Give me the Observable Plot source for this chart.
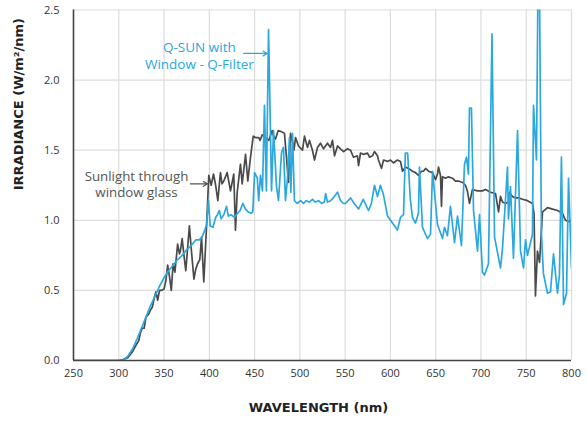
<!DOCTYPE html>
<html>
<head>
<meta charset="utf-8">
<script src="https://cdn.jsdelivr.net/npm/d3@7"></script>
<script src="https://cdn.jsdelivr.net/npm/@observablehq/plot@0.6"></script>
<style>
  html, body { margin: 0; padding: 0; background: #fff; }
  #chart { width: 587px; height: 423px; }
</style>
</head>
<body>
<div id="chart"></div>
<script>
// Sunlight through window glass
const sunWavelength = [250,300,304,310,315,320,322,324,326,328,330,333,335,337,339,341,343,345,347,350,352,354,356,358,360,362,365,367,368,370,372,374,376,378,380,383,385,387,389.5,391.4,393.9,396.9,399.4,402.1,404.6,407,409.4,412.3,414,416,419.7,423.4,427,428.9,430.8,434.4,436.3,440,442.5,445.5,448.5,451,454.6,456,458.4,462,465.7,469.4,471,473.1,476.1,480.5,483,485.2,487.4,489.7,491.9,493.5,495.2,498.5,502.9,505.1,508.4,510.6,513.9,516.2,519.5,522.8,526.1,530.5,533.8,536,538.3,541.6,544.9,548.2,552.6,555.9,559.2,563.6,564.8,567,570.3,574.7,576.9,580.2,582.4,585.7,586.8,590.2,592.4,596.8,600.1,603.4,607.8,611.1,613.4,616.7,620,624.4,627.7,631,634.3,636.5,638.8,642.1,646.5,649.8,652,653.1,655.3,656.4,657.5,660.8,664.1,668.6,671.9,675.2,679.6,682.9,685,687.3,690.6,696.2,701.7,705,710.5,716.1,719.4,721.6,723.8,727.1,730.4,731.5,734.8,738.1,741.5,745.9,751.4,756.9,758.6,760.2,762.4,764.7,768,773.5,779,784.5,790,793.4,797,800];
const sunIrradiance = [0,0,0.005,0.02,0.06,0.12,0.14,0.2,0.23,0.23,0.31,0.33,0.36,0.38,0.44,0.49,0.43,0.5,0.5,0.51,0.57,0.68,0.6,0.5,0.69,0.63,0.83,0.76,0.78,0.87,0.75,0.64,0.8,0.96,0.8,0.58,0.65,0.69,0.72,0.88,0.56,0.95,1.32,1.25,1.33,1.25,1.14,1.34,1.26,1.28,1.34,1.21,1.33,0.93,1.2,1.4,1.26,1.47,1.28,1.45,1.6,1.59,1.59,1.57,1.61,1.59,1.57,1.64,1.6,1.58,1.64,1.63,1.62,1.45,1.27,1.62,1.56,1.5,1.59,1.53,1.5,1.6,1.52,1.57,1.5,1.43,1.52,1.55,1.51,1.55,1.52,1.57,1.46,1.53,1.51,1.49,1.51,1.5,1.45,1.46,1.39,1.48,1.47,1.48,1.45,1.46,1.49,1.46,1.43,1.37,1.43,1.42,1.43,1.41,1.43,1.42,1.35,1.38,1.37,1.35,1.34,1.32,1.35,1.35,1.37,1.35,1.34,1.29,1.33,1.38,1.32,1.1,1.31,1.3,1.31,1.3,1.28,1.28,1.27,1.25,1.21,1.12,1.22,1.21,1.21,1.22,1.2,1.19,1.06,1.17,1.13,1.12,1.13,1.2,1.17,1.16,1.16,1.15,1.14,1.12,1.05,0.46,0.78,0.7,1.06,1.09,1.08,1.07,1.05,1.0,0.99,1.0];

// Q-SUN with Window - Q-Filter
const qsunWavelength = [250,300,305,310,315,320,325,330,335,340,345,350,355,360,365,370,375,380,385,389,392,395,397,399,401,404,407,409,411,413,416,419,421,424,428,431,434,437,440,443,446,448,450,453,454.5,456.5,458.7,460.9,463,465.4,468.7,470.9,474.2,476.4,479.7,481.9,484.1,486.3,488.5,490,491.9,494,497,500.7,504,507,510.6,514,517,520.6,524,527,528.5,530.5,534,537,541.6,545,548,550.4,556,560,564.8,570,575.8,579,582.4,585.7,589,592.4,596.8,602.3,607.8,611.1,614.5,616.5,619,622,624.4,627.7,631,632.1,635.4,640.9,644.3,646.5,652,657.5,659.7,663,666.3,670.8,674.1,678.5,681.8,684,686.2,687.3,689.5,691.8,696.2,698.4,701.7,703.9,708.3,712.2,715,721.6,723.8,729.3,730.4,732.6,735.9,740.4,743.7,747,749.2,751.4,756.9,758,761.3,763,764.6,766.8,769,773.5,776.8,780.1,784.5,786.7,788.9,791.2,794.5,796.7,800];
const qsunIrradiance = [0,0,0.005,0.03,0.08,0.15,0.23,0.31,0.39,0.46,0.53,0.59,0.64,0.68,0.72,0.75,0.79,0.82,0.86,0.86,0.88,0.93,0.97,1.14,0.96,0.95,1.02,1.04,1.07,1.01,1.04,1.1,1.03,1.04,1.02,1.05,1.07,1.12,1.08,1.06,1.05,1.06,1.34,1.3,1.14,1.32,1.21,1.82,1.21,2.36,1.21,1.64,1.24,1.14,1.48,1.52,1.14,1.3,1.59,1.2,1.62,1.14,1.12,1.14,1.12,1.14,1.13,1.15,1.13,1.14,1.12,1.13,1.19,1.13,1.14,1.16,1.2,1.14,1.12,1.12,1.16,1.12,1.08,1.15,1.07,1.12,1.25,1.17,1.25,1.18,1.03,0.98,0.93,1.02,1.04,1.48,1.48,1.15,1.02,0.98,1.05,1.38,0.95,0.87,0.9,1.35,0.97,0.87,0.95,0.89,1.1,0.84,1.03,0.82,1.4,1.45,1.33,1.8,1.8,1.07,0.78,1.04,0.63,0.61,0.69,2.33,0.88,0.66,0.8,1.38,1.01,1.24,0.73,1.64,0.78,0.66,0.86,0.75,0.9,1.82,1.43,2.7,2.7,0.9,0.62,0.48,0.49,0.76,0.48,0.61,1.45,0.4,0.48,1.3,0.66];

const xTicks = [250,300,350,400,450,500,550,600,650,700,750,800];
const yTicks = [0,0.5,1.0,1.5,2.0,2.5];

const sunData = sunWavelength.map((w, i) => ({wavelength: w, irradiance: sunIrradiance[i]}));
const qsunData = qsunWavelength.map((w, i) => ({wavelength: w, irradiance: qsunIrradiance[i]}));

const BLUE = "#2aa8df";
const DARK = "#4a4a4a";
const FONT = "'Open Sans', Lato, sans-serif";
const TITLE_FONT = "'DejaVu Sans', sans-serif";

const chart = Plot.plot({
  width: 587,
  height: 423,
  marginLeft: 73,
  marginRight: 16,
  marginTop: 9.5,
  marginBottom: 63,
  style: {fontFamily: FONT, fontSize: "11px", color: "#333", background: "#fff"},
  x: {domain: [250, 800], ticks: xTicks, tickSize: 0, tickPadding: 9, tickFormat: d3.format("d"), label: null},
  y: {domain: [0, 2.5], ticks: yTicks, tickSize: 0, tickPadding: 14, tickFormat: d3.format(".1f"), label: null},
  marks: [
    Plot.ruleX(xTicks, {stroke: "#dcdcdc", strokeWidth: 1.2}),
    Plot.ruleY(yTicks, {stroke: "#dcdcdc", strokeWidth: 1.2}),
    Plot.line(sunData, {x: "wavelength", y: "irradiance", stroke: DARK, strokeWidth: 1.7, clip: true}),
    Plot.line(qsunData, {x: "wavelength", y: "irradiance", stroke: BLUE, strokeWidth: 1.7, clip: true}),
    Plot.ruleX([250], {stroke: "#444", strokeWidth: 1.6}),
    Plot.ruleY([0], {stroke: "#444", strokeWidth: 1.6}),
    Plot.text(["Q-SUN with\nWindow - Q-Filter"], {x: 389, y: 2.18, text: d => d, fill: BLUE, fontSize: 13.5, lineHeight: 1.25, textAnchor: "middle", fontFamily: FONT}),
    Plot.arrow([0], {x1: 438, y1: 2.19, x2: 464, y2: 2.19, stroke: BLUE, strokeWidth: 1.2, headLength: 6}),
    Plot.text(["Sunlight through\nwindow glass"], {x: 319.6, y: 1.26, text: d => d, fill: "#555", fontSize: 13.3, lineHeight: 1.24, textAnchor: "middle", fontFamily: FONT}),
    Plot.arrow([0], {x1: 379, y1: 1.26, x2: 398, y2: 1.26, stroke: "#555", strokeWidth: 1.2, headLength: 6}),
    Plot.text(["WAVELENGTH (nm)"], {frameAnchor: "bottom", dx: -4, dy: 51, text: d => d, fontWeight: "bold", fontSize: 13, fill: "#222", fontFamily: TITLE_FONT}),
    Plot.text(["IRRADIANCE (W/m²/nm)"], {frameAnchor: "left", dx: -55, dy: 5, rotate: -90, text: d => d, fontWeight: "bold", fontSize: 13, fill: "#222", fontFamily: TITLE_FONT})
  ]
});
document.getElementById("chart").appendChild(chart);
</script>
</body>
</html>
